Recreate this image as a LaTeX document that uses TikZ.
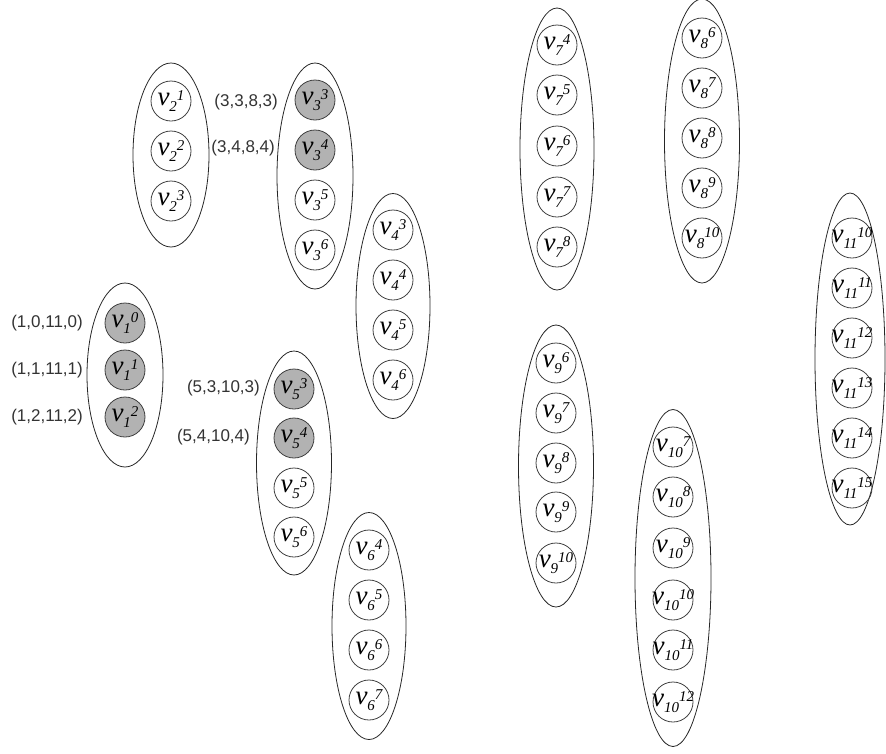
\documentclass[tikz,border=0pt]{standalone}
\usepackage{fontspec}
\setmainfont{Liberation Serif}
\setsansfont{Liberation Sans}
\usetikzlibrary{shapes.geometric, positioning}

% vertex label: v, then sub and sup one after the other
\newcommand{\vlab}[2]{\makebox[0pt]{\fontsize{27}{27}\selectfont\itshape v\raisebox{-6pt}{\fontsize{15}{15}\selectfont #1}\raisebox{5pt}{\fontsize{15}{15}\selectfont #2}}}

\begin{document}
\begin{tikzpicture}[
    x=1pt, y=-1pt,
    vert/.style={circle, draw=black!75, line width=0.8pt, inner sep=0pt, minimum size=40pt},
    hit/.style={vert, fill=black!30},
    grp/.style={ellipse, draw=black!85, line width=0.8pt, inner sep=0pt},
    tag/.style={font=\sffamily\fontsize{17}{17}\selectfont, text=black!80, inner sep=0pt}
]
    \useasboundingbox (0,0) rectangle (886,753);

    % --- GROUP 1 ---
    \node[grp, minimum width=76pt, minimum height=184pt] (g1) at (125,375) {};
    \node[hit] (v1-0) at (125,323) {\vlab{1}{0}};
    \node[hit] (v1-1) at (125,370) {\vlab{1}{1}};
    \node[hit] (v1-2) at (125,417) {\vlab{1}{2}};
    \node[tag, anchor=east] (t1-0) at (83,323) {(1,0,11,0)};
    \node[tag, anchor=east] (t1-1) at (83,370) {(1,1,11,1)};
    \node[tag, anchor=east] (t1-2) at (83,417) {(1,2,11,2)};

    % --- GROUP 2 ---
    \node[grp, minimum width=76pt, minimum height=184pt] (g2) at (171,155) {};
    \node[vert] (v2-1) at (171,101) {\vlab{2}{1}};
    \node[vert] (v2-2) at (171,151) {\vlab{2}{2}};
    \node[vert] (v2-3) at (171,201) {\vlab{2}{3}};

    % --- GROUP 3 ---
    \node[grp, minimum width=76pt, minimum height=226pt] (g3) at (315,176) {};
    \node[hit] (v3-3) at (315,100) {\vlab{3}{3}};
    \node[hit] (v3-4) at (315,150) {\vlab{3}{4}};
    \node[vert] (v3-5) at (315,200) {\vlab{3}{5}};
    \node[vert] (v3-6) at (315,250) {\vlab{3}{6}};
    \node[tag, anchor=east] (t3-3) at (278,102) {(3,3,8,3)};
    \node[tag, anchor=east] (t3-4) at (275,148) {(3,4,8,4)};

    % --- GROUP 4 ---
    \node[grp, minimum width=74pt, minimum height=225pt] (g4) at (393,306) {};
    \node[vert] (v4-3) at (393,230) {\vlab{4}{3}};
    \node[vert] (v4-4) at (393,280) {\vlab{4}{4}};
    \node[vert] (v4-5) at (393,330) {\vlab{4}{5}};
    \node[vert] (v4-6) at (393,380) {\vlab{4}{6}};

    % --- GROUP 5 ---
    \node[grp, minimum width=75pt, minimum height=224pt] (g5) at (294,463) {};
    \node[hit] (v5-3) at (294,389) {\vlab{5}{3}};
    \node[hit] (v5-4) at (294,438) {\vlab{5}{4}};
    \node[vert] (v5-5) at (294,488) {\vlab{5}{5}};
    \node[vert] (v5-6) at (294,537) {\vlab{5}{6}};
    \node[tag, anchor=east] (t5-3) at (260,388) {(5,3,10,3)};
    \node[tag, anchor=east] (t5-4) at (250,437) {(5,4,10,4)};

    % --- GROUP 6 ---
    \node[grp, minimum width=74pt, minimum height=227pt] (g6) at (369,626) {};
    \node[vert] (v6-4) at (369,550) {\vlab{6}{4}};
    \node[vert] (v6-5) at (369,600) {\vlab{6}{5}};
    \node[vert] (v6-6) at (369,650) {\vlab{6}{6}};
    \node[vert] (v6-7) at (369,700) {\vlab{6}{7}};

    % --- GROUP 7 ---
    \node[grp, minimum width=74pt, minimum height=282pt] (g7) at (557,149) {};
    \node[vert] (v7-4) at (557,45) {\vlab{7}{4}};
    \node[vert] (v7-5) at (557,95) {\vlab{7}{5}};
    \node[vert] (v7-6) at (557,146) {\vlab{7}{6}};
    \node[vert] (v7-7) at (557,197) {\vlab{7}{7}};
    \node[vert] (v7-8) at (557,247) {\vlab{7}{8}};

    % --- GROUP 8 ---
    \node[grp, minimum width=75pt, minimum height=284pt] (g8) at (702,141) {};
    \node[vert] (v8-6) at (702,38) {\vlab{8}{6}};
    \node[vert] (v8-7) at (702,88) {\vlab{8}{7}};
    \node[vert] (v8-8) at (702,138) {\vlab{8}{8}};
    \node[vert] (v8-9) at (702,188) {\vlab{8}{9}};
    \node[vert] (v8-10) at (702,238) {\vlab{8}{10}};

    % --- GROUP 9 ---
    \node[grp, minimum width=75pt, minimum height=282pt] (g9) at (556,466) {};
    \node[vert] (v9-6) at (556,363) {\vlab{9}{6}};
    \node[vert] (v9-7) at (556,413) {\vlab{9}{7}};
    \node[vert] (v9-8) at (556,463) {\vlab{9}{8}};
    \node[vert] (v9-9) at (556,512) {\vlab{9}{9}};
    \node[vert] (v9-10) at (556,563) {\vlab{9}{10}};

    % --- GROUP 10 ---
    \node[grp, minimum width=76pt, minimum height=337pt] (g10) at (673,578) {};
    \node[vert] (v10-7) at (673,447) {\vlab{10}{7}};
    \node[vert] (v10-8) at (673,497) {\vlab{10}{8}};
    \node[vert] (v10-9) at (673,548) {\vlab{10}{9}};
    \node[vert] (v10-10) at (673,600) {\vlab{10}{10}};
    \node[vert] (v10-11) at (673,650) {\vlab{10}{11}};
    \node[vert] (v10-12) at (673,702) {\vlab{10}{12}};

    % --- GROUP 11 ---
    \node[grp, minimum width=70pt, minimum height=332pt] (g11) at (850,359) {};
    \node[vert] (v11-10) at (852,238) {\vlab{11}{10}};
    \node[vert] (v11-11) at (852,288) {\vlab{11}{11}};
    \node[vert] (v11-12) at (852,338) {\vlab{11}{12}};
    \node[vert] (v11-13) at (852,388) {\vlab{11}{13}};
    \node[vert] (v11-14) at (852,438) {\vlab{11}{14}};
    \node[vert] (v11-15) at (852,488) {\vlab{11}{15}};
\end{tikzpicture}
\end{document}
